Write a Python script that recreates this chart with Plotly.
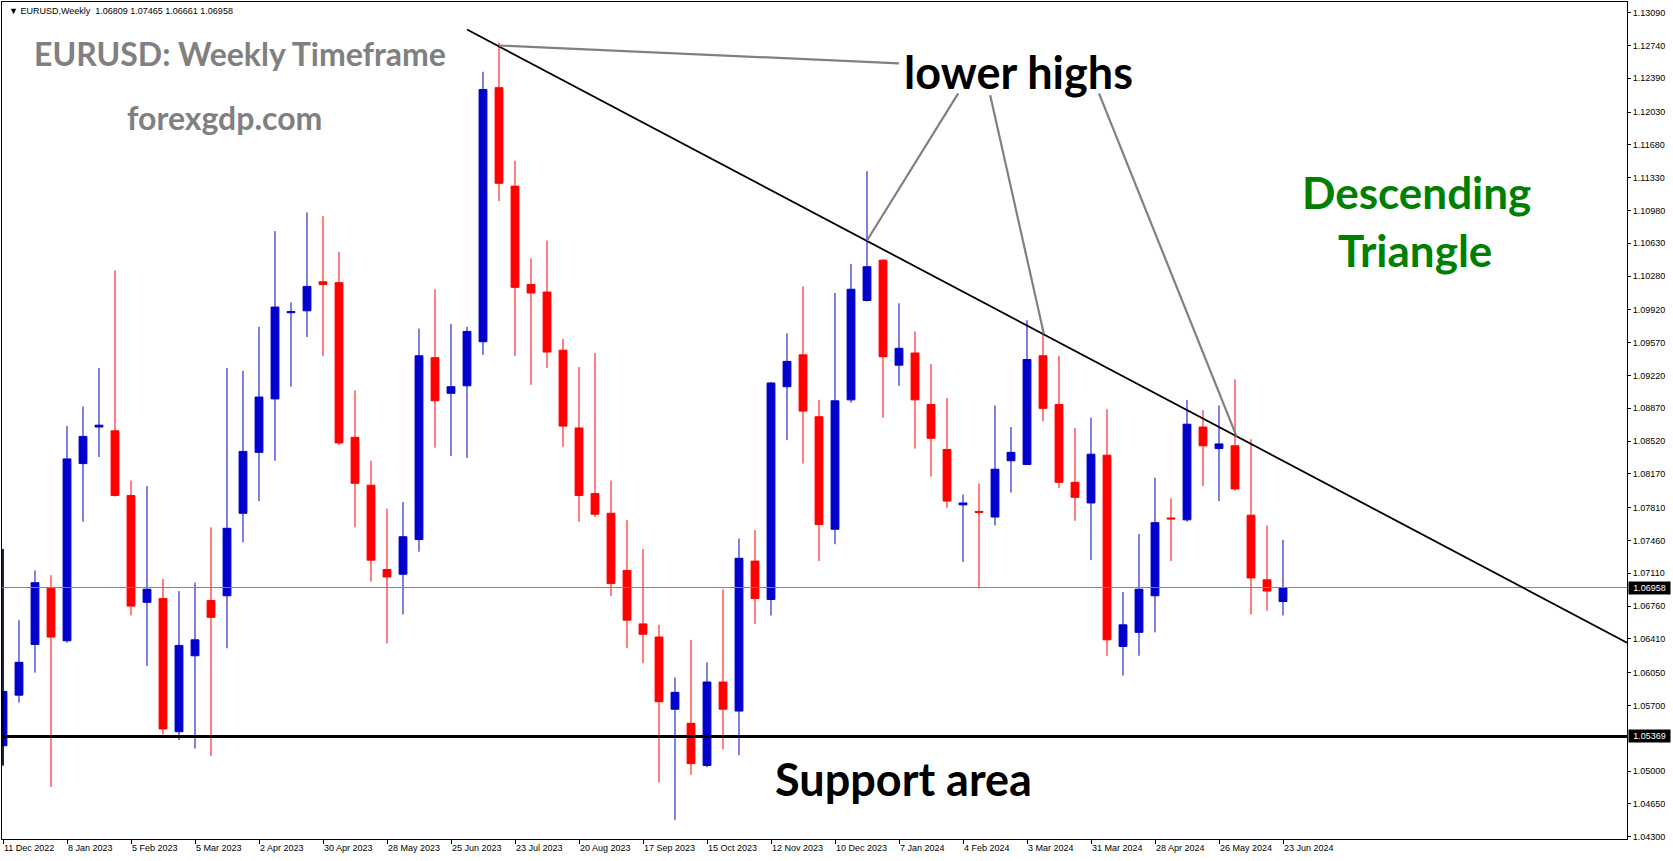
import plotly.graph_objects as go

# ---------------- data ----------------
tick_labels = ["11 Dec 2022", "8 Jan 2023", "5 Feb 2023", "5 Mar 2023", "2 Apr 2023",
               "30 Apr 2023", "28 May 2023", "25 Jun 2023", "23 Jul 2023", "20 Aug 2023",
               "17 Sep 2023", "15 Oct 2023", "12 Nov 2023", "10 Dec 2023", "7 Jan 2024",
               "4 Feb 2024", "3 Mar 2024", "31 Mar 2024", "28 Apr 2024", "26 May 2024",
               "23 Jun 2024"]
tick_bar_index = [0, 4, 8, 12, 16, 20, 24, 28, 32, 36, 40, 44, 48, 52, 56, 60, 64, 68, 72, 76, 80]

opens = [1.0527, 1.0581, 1.0635, 1.0695, 1.0639, 1.0828, 1.0867, 1.0863, 1.0794, 1.0680,
         1.0684, 1.0542, 1.0623, 1.0682, 1.0687, 1.0775, 1.0840, 1.0897, 1.0989, 1.0991,
         1.1022, 1.1021, 1.0856, 1.0805, 1.0715, 1.0710, 1.0747, 1.0941, 1.0903, 1.0911,
         1.0958, 1.1229, 1.1124, 1.1019, 1.1011, 1.0949, 1.0866, 1.0796, 1.0775, 1.0714,
         1.0657, 1.0643, 1.0566, 1.0551, 1.0506, 1.0595, 1.0564, 1.0724, 1.0683, 1.0910,
         1.0944, 1.0878, 1.0758, 1.0896, 1.1002, 1.1045, 1.0933, 1.0946, 1.0891, 1.0843,
         1.0784, 1.0777, 1.0771, 1.0831, 1.0827, 1.0943, 1.0891, 1.0808, 1.0786, 1.0837,
         1.0633, 1.0648, 1.0687, 1.0770, 1.0768, 1.0867, 1.0844, 1.0847, 1.0773, 1.0704,
         1.06809]
highs = [1.0737, 1.0661, 1.0714, 1.0709, 1.0868, 1.0889, 1.0930, 1.1034, 1.0810, 1.0804,
         1.0705, 1.0692, 1.0701, 1.0760, 1.0930, 1.0927, 1.0974, 1.1076, 1.1000, 1.1096,
         1.1092, 1.1054, 1.0906, 1.0831, 1.0780, 1.0787, 1.0972, 1.1014, 1.0977, 1.0974,
         1.1246, 1.1277, 1.1151, 1.1047, 1.1066, 1.0961, 1.0931, 1.0946, 1.0810, 1.0768,
         1.0737, 1.0656, 1.0600, 1.0640, 1.0616, 1.0694, 1.0748, 1.0757, 1.0915, 1.0967,
         1.1017, 1.0896, 1.1010, 1.1041, 1.1140, 1.1046, 1.0999, 1.0969, 1.0934, 1.0898,
         1.0795, 1.0807, 1.0890, 1.0867, 1.0981, 1.0967, 1.0943, 1.0866, 1.0877, 1.0886,
         1.0691, 1.0753, 1.0813, 1.0791, 1.0896, 1.0885, 1.0890, 1.0918, 1.0854, 1.0762,
         1.07465]
lows = [1.0506, 1.0573, 1.0605, 1.0483, 1.0637, 1.0766, 1.0835, 1.0793, 1.0666, 1.0612,
        1.0539, 1.0533, 1.0524, 1.0516, 1.0631, 1.0744, 1.0788, 1.0831, 1.0910, 1.0963,
        1.0943, 1.0848, 1.0760, 1.0702, 1.0636, 1.0667, 1.0734, 1.0845, 1.0836, 1.0834,
        1.0944, 1.1108, 1.0943, 1.0912, 1.0930, 1.0846, 1.0766, 1.0771, 1.0687, 1.0631,
        1.0615, 1.0488, 1.0448, 1.0496, 1.0504, 1.0523, 1.0517, 1.0657, 1.0666, 1.0853,
        1.0828, 1.0724, 1.0742, 1.0893, 1.1001, 1.0877, 1.0911, 1.0844, 1.0814, 1.0781,
        1.0723, 1.0695, 1.0762, 1.0797, 1.0827, 1.0873, 1.0802, 1.0767, 1.0725, 1.0623,
        1.0602, 1.0623, 1.0648, 1.0724, 1.0766, 1.0804, 1.0788, 1.0799, 1.0667, 1.0671,
        1.06661]
closes = [1.0585, 1.0616, 1.0701, 1.0643, 1.0833, 1.0857, 1.0869, 1.0794, 1.0676, 1.0694,
          1.0545, 1.0634, 1.0640, 1.0664, 1.0759, 1.0841, 1.0899, 1.0995, 1.0990, 1.1017,
          1.1019, 1.0850, 1.0807, 1.0725, 1.0707, 1.0750, 1.0943, 1.0895, 1.0910, 1.0969,
          1.1227, 1.1127, 1.1016, 1.1010, 1.0947, 1.0868, 1.0794, 1.0774, 1.0700, 1.0661,
          1.0646, 1.0574, 1.0584, 1.0508, 1.0595, 1.0566, 1.0727, 1.0684, 1.0914, 1.0937,
          1.0884, 1.0763, 1.0895, 1.1014, 1.1038, 1.0942, 1.0951, 1.0896, 1.0855, 1.0788,
          1.0786, 1.0776, 1.0822, 1.0840, 1.0939, 1.0887, 1.0808, 1.0792, 1.0838, 1.0640,
          1.0656, 1.0694, 1.0765, 1.0769, 1.0870, 1.0847, 1.0849, 1.0801, 1.0706, 1.0692,
          1.06958]

price_ticks = [1.13090, 1.12740, 1.12390, 1.12030, 1.11680, 1.11330, 1.10980, 1.10630,
               1.10280, 1.09920, 1.09570, 1.09220, 1.08870, 1.08520, 1.08170, 1.07810,
               1.07460, 1.07110, 1.06760, 1.06410, 1.06050, 1.05700, 1.05000, 1.04650,
               1.04300]

support_level = 1.05369
trend_bar = [29.0, 101.5]
trend_price = [1.1291, 1.0637]
pointer_bar_start = [31.0, 59.7, 61.7, 68.5]
pointer_bar_end = [56.0, 54.0, 65.06, 77.1]
pointer_price_start = [1.1274, 1.1223, 1.1221, 1.1223]
pointer_price_end = [1.1255, 1.1066, 1.0966, 1.0857]

# ---------------- layout geometry ----------------
W, H = 1673, 861
L, R, T, B = 2, 1627, 2, 839


def xp(px):
    return (px - L) / (R - L)


def yp(py):
    return (B - py) / (B - T)


BLUE = "#0000CC"
RED = "#FF0000"
AXF = "Liberation Sans"

bars = list(range(len(opens)))
last_price = closes[-1]

fig = go.Figure()
fig.add_trace(go.Candlestick(
    x=bars, open=opens, high=highs, low=lows, close=closes,
    increasing=dict(line=dict(color=BLUE, width=1), fillcolor=BLUE),
    decreasing=dict(line=dict(color=RED, width=1), fillcolor=RED),
    whiskerwidth=0, showlegend=False, hoverinfo="skip",
))

shapes = []
# first (cut) bar wick drawn black at the chart edge
shapes.append(dict(type="line", xref="x", yref="y", x0=bars[0], x1=bars[0],
                   y0=lows[0], y1=highs[0], line=dict(color="black", width=1.5)))
# current price line
shapes.append(dict(type="line", xref="paper", yref="y", x0=0, x1=1,
                   y0=last_price, y1=last_price, line=dict(color="#778899", width=1)))
# support line
shapes.append(dict(type="line", xref="paper", yref="y", x0=0, x1=1,
                   y0=support_level, y1=support_level, line=dict(color="black", width=3.2)))
# descending trend line
shapes.append(dict(type="line", xref="x", yref="y", x0=trend_bar[0], x1=trend_bar[1],
                   y0=trend_price[0], y1=trend_price[1], line=dict(color="black", width=1.8)))
# pointer lines
for xs, xe, ys, ye in zip(pointer_bar_start, pointer_bar_end, pointer_price_start, pointer_price_end):
    shapes.append(dict(type="line", xref="x", yref="y", x0=xs, x1=xe, y0=ys, y1=ye,
                       line=dict(color="#808080", width=2.2)))

header = "▼ EURUSD,Weekly  {:.5f} {:.5f} {:.5f} {:.5f}".format(opens[-1], highs[-1], lows[-1], closes[-1])

annotations = [
    dict(text=header, xref="paper", yref="paper", x=xp(7), y=yp(11), xanchor="left",
         yanchor="middle", showarrow=False, font=dict(family=AXF, size=9, color="black")),
    dict(text="<b>EURUSD: Weekly Timeframe</b>", xref="paper", yref="paper", x=xp(240), y=yp(54),
         xanchor="center", yanchor="middle", showarrow=False,
         font=dict(family="Lato", size=32, color="#808080")),
    dict(text="<b>forexgdp.com</b>", xref="paper", yref="paper", x=xp(224), y=yp(117),
         xanchor="center", yanchor="middle", showarrow=False,
         font=dict(family="Lato", size=32, color="#808080")),
    dict(text="<b>lower highs</b>", xref="paper", yref="paper", x=xp(1018), y=yp(72),
         xanchor="center", yanchor="middle", showarrow=False,
         font=dict(family="Lato", size=45, color="black")),
    dict(text="<b>Support area</b>", xref="paper", yref="paper", x=xp(903), y=yp(779),
         xanchor="center", yanchor="middle", showarrow=False,
         font=dict(family="Lato", size=45, color="black")),
    dict(text="<b>Descending</b>", xref="paper", yref="paper", x=xp(1416), y=yp(192),
         xanchor="center", yanchor="middle", showarrow=False,
         font=dict(family="Lato", size=44, color="#008000")),
    dict(text="<b>Triangle</b>", xref="paper", yref="paper", x=xp(1415), y=yp(250),
         xanchor="center", yanchor="middle", showarrow=False,
         font=dict(family="Lato", size=44, color="#008000")),
]
# price label boxes on the right axis
for lvl in [last_price, support_level]:
    annotations.append(dict(text="{:.5f}".format(lvl), xref="paper", yref="y", x=1, y=lvl,
                            xanchor="left", yanchor="middle", xshift=1, showarrow=False,
                            bgcolor="black", borderpad=1, width=39, align="center",
                            font=dict(family=AXF, size=9, color="white")))

x_lo = bars[0] - (3 - L) / 16.0
x_hi = x_lo + (R - L) / 16.0
y_top = price_ticks[0] + (12.7 - T) / 9374.0
y_bot = price_ticks[-1] - (B - 836.7) / 9374.0

fig.update_layout(
    width=W, height=H,
    margin=dict(l=L, r=W - R, t=T, b=H - B, pad=0),
    paper_bgcolor="white", plot_bgcolor="white",
    shapes=shapes, annotations=annotations,
    showlegend=False,
    xaxis=dict(range=[x_lo, x_hi], rangeslider=dict(visible=False), showgrid=False,
               zeroline=False, showline=True, linecolor="black", linewidth=1, mirror=True,
               ticks="outside", ticklen=4, tickcolor="black", tickvals=tick_bar_index,
               ticktext=tick_labels, ticklabelposition="outside right",
               tickfont=dict(family=AXF, size=9, color="black")),
    yaxis=dict(range=[y_bot, y_top], side="right", showgrid=False, zeroline=False,
               showline=True, linecolor="black", linewidth=1, mirror=True,
               ticks="outside", ticklen=3, tickcolor="black", tickvals=price_ticks,
               ticktext=["{:.5f}".format(v) for v in price_ticks],
               tickfont=dict(family=AXF, size=9, color="black")),
)

fig.write_html("out.html", config={"displayModeBar": False},
               post_script="document.body.style.margin='0px';document.body.style.overflow='hidden';")
